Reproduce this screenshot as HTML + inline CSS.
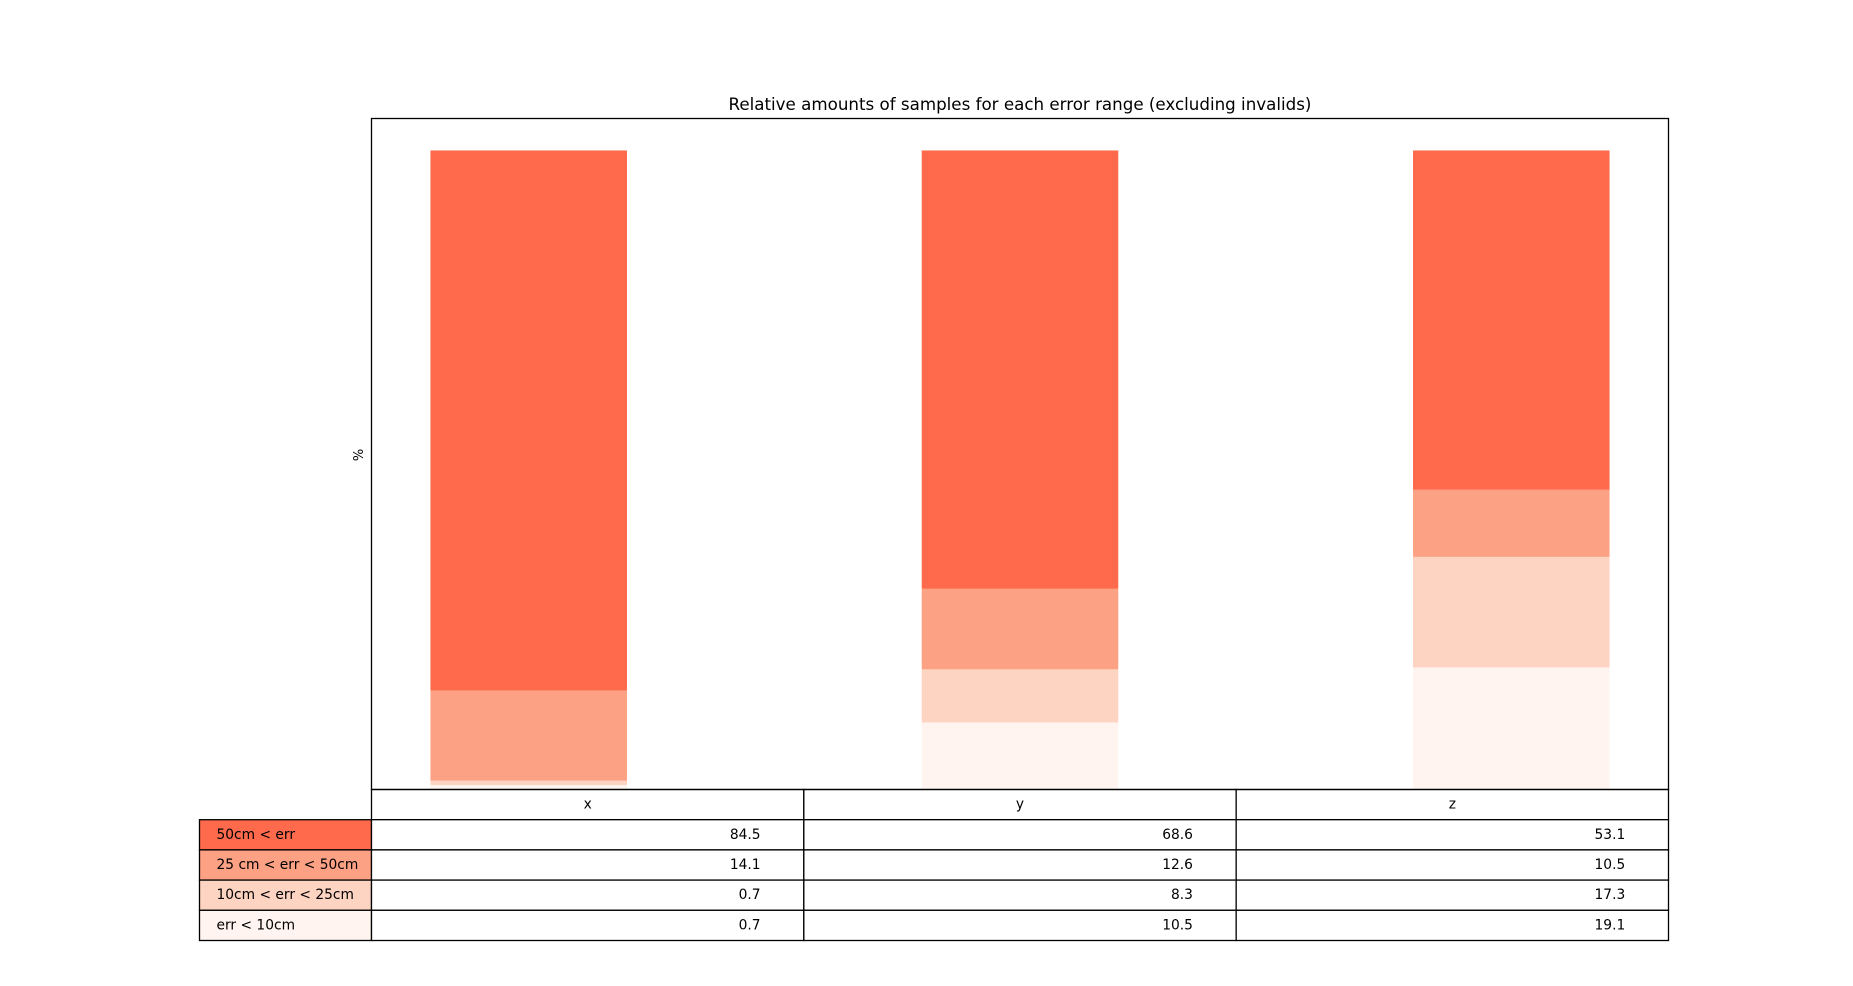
<!DOCTYPE html>
<html><head><meta charset="utf-8"><style>
body{margin:0;background:#fff;}
svg{display:block;font-family:"DejaVu Sans","Liberation Sans",sans-serif;}
</style></head><body>
<svg id="chart" width="1853" height="986">
<text x="1020" y="110" font-size="16.7" text-anchor="middle">Relative amounts of samples for each error range (excluding invalids)</text>
<text transform="translate(363,455) rotate(-90)" font-size="13" text-anchor="middle">%</text>
<g id="bars"></g>
<g id="table"></g>
<rect x="371.5" y="118.5" width="1297" height="671" fill="none" stroke="#000" stroke-width="1.3"/>
</svg>
<script>
const categories = ["x","y","z"];
const seriesNames = ["50cm < err","25 cm < err < 50cm","10cm < err < 25cm","err < 10cm"];
const s50 = [84.5,68.6,53.1];
const s25 = [14.1,12.6,10.5];
const s10 = [0.7,8.3,17.3];
const s0 = [0.7,10.5,19.1];
const series = [s50,s25,s10,s0];
const colors = ["#fe6a4b","#fca183","#fdd3c1","#fff4ef"];

const NS="http://www.w3.org/2000/svg";
const L=371.5,R=1668.5,T=118.5,B=789.5;
const xMin=-0.32,xMax=2.32,yMax=105;
const xs=v=>L+(v-xMin)/(xMax-xMin)*(R-L);
const ys=v=>B-v/yMax*(B-T);
const bw=0.4;
const bars=document.getElementById('bars');
categories.forEach((c,i)=>{
  let base=0;
  for(let k=series.length-1;k>=0;k--){
    const v=series[k][i];
    const r=document.createElementNS(NS,'rect');
    r.setAttribute('x',xs(i-bw/2));
    r.setAttribute('width',xs(i+bw/2)-xs(i-bw/2));
    r.setAttribute('y',ys(base+v));
    r.setAttribute('height',ys(base)-ys(base+v));
    r.setAttribute('fill',colors[k]);
    
    
    bars.appendChild(r);
    base+=v;
  }
});
const tb=document.getElementById('table');
const tL=199.5,rowH=30.2,tTop=789.5;
const colW=(R-L)/3;
function rect(x,y,w,h,fill,name){
  const r=document.createElementNS(NS,'rect');
  r.setAttribute('x',x);r.setAttribute('y',y);r.setAttribute('width',w);r.setAttribute('height',h);
  r.setAttribute('fill',fill);r.setAttribute('stroke','#000');r.setAttribute('stroke-width','1.3');
  
  
  tb.appendChild(r);
}
function text(x,y,s,anchor,name){
  const t=document.createElementNS(NS,'text');
  t.setAttribute('x',x);t.setAttribute('y',y);t.setAttribute('font-size','13.8');
  t.setAttribute('text-anchor',anchor);t.textContent=s;
  
  
  tb.appendChild(t);
}
categories.forEach((c,i)=>{
  rect(L+i*colW,tTop,colW,rowH,'#fff','col-header-'+c);
  text(L+i*colW+colW/2,tTop+rowH/2+4,c,'middle','col-header-label-'+c);
});
seriesNames.forEach((n,k)=>{
  const y=tTop+rowH*(k+1);
  rect(tL,y,L-tL,rowH,colors[k],'row-header-'+k);
  text(tL+17,y+rowH/2+4,n,'start','row-label-'+k);
  categories.forEach((c,i)=>{
    rect(L+i*colW,y,colW,rowH,'#fff','cell-'+k+'-'+c);
    text(L+(i+1)*colW-colW*0.1,y+rowH/2+4,series[k][i].toFixed(1),'end','cell-value-'+k+'-'+c);
  });
});
</script>
</body></html>
